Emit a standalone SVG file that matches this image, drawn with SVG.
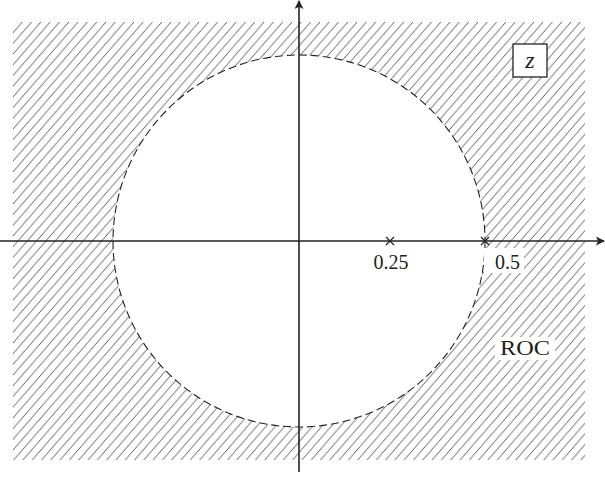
<svg xmlns="http://www.w3.org/2000/svg" width="605" height="477" viewBox="0 0 605 477">
<style>
.axis{stroke:#222;stroke-width:1.6;fill:none}
.lbl{font-family:"Liberation Serif",serif;font-size:20px;fill:#222}
.hole{fill:#fff;stroke:#222;stroke-width:1.1;stroke-dasharray:8 4}
.mk{stroke:#222;stroke-width:1.2}
</style>
<defs>
<pattern id="hatch" patternUnits="userSpaceOnUse" x="13" y="22" width="9.3" height="10.7">
<path d="M0,10.7 L9.3,0 M-1,1.15 L1,-1.15 M8.3,11.85 L10.3,9.55" stroke="#3a3a3a" stroke-width="0.85" fill="none"/>
</pattern>
<marker id="arr" viewBox="0 0 10 10" refX="9" refY="5" markerWidth="9" markerHeight="9" markerUnits="userSpaceOnUse" orient="auto">
<path d="M0,0 L10,5 L0,10 L2.5,5 Z" fill="#222"/>
</marker>
</defs>
<g id="region">
<rect x="13" y="22" width="572" height="438" fill="url(#hatch)"/>
<circle cx="299" cy="241" r="186" class="hole"/>
</g>
<g id="connectors">
<line x1="0" y1="241" x2="604" y2="241" class="axis" marker-end="url(#arr)"/>
<line x1="299" y1="472" x2="299" y2="1" class="axis" marker-end="url(#arr)"/>
</g>
<g id="poles">
<path d="M386,237 L394,245 M386,245 L394,237" class="mk"/>
<path d="M481,237 L489,245 M481,245 L489,237" class="mk"/>
</g>
<g id="labels">
<text x="391" y="269" class="lbl" text-anchor="middle">0.25</text>
<rect x="484" y="248" width="40" height="25" fill="#fff"/>
<text x="495" y="269" class="lbl">0.5</text>
<rect x="495" y="337" width="60" height="23" fill="#fff"/>
<text x="500" y="355" class="lbl" textLength="50" lengthAdjust="spacingAndGlyphs">ROC</text>
</g>
<g id="zbox">
<rect x="513" y="44" width="34" height="33" fill="#fff" stroke="#222" stroke-width="1.3"/>
<text x="530" y="68" class="lbl" style="font-size:24px;font-style:italic" text-anchor="middle">z</text>
</g>
</svg>
